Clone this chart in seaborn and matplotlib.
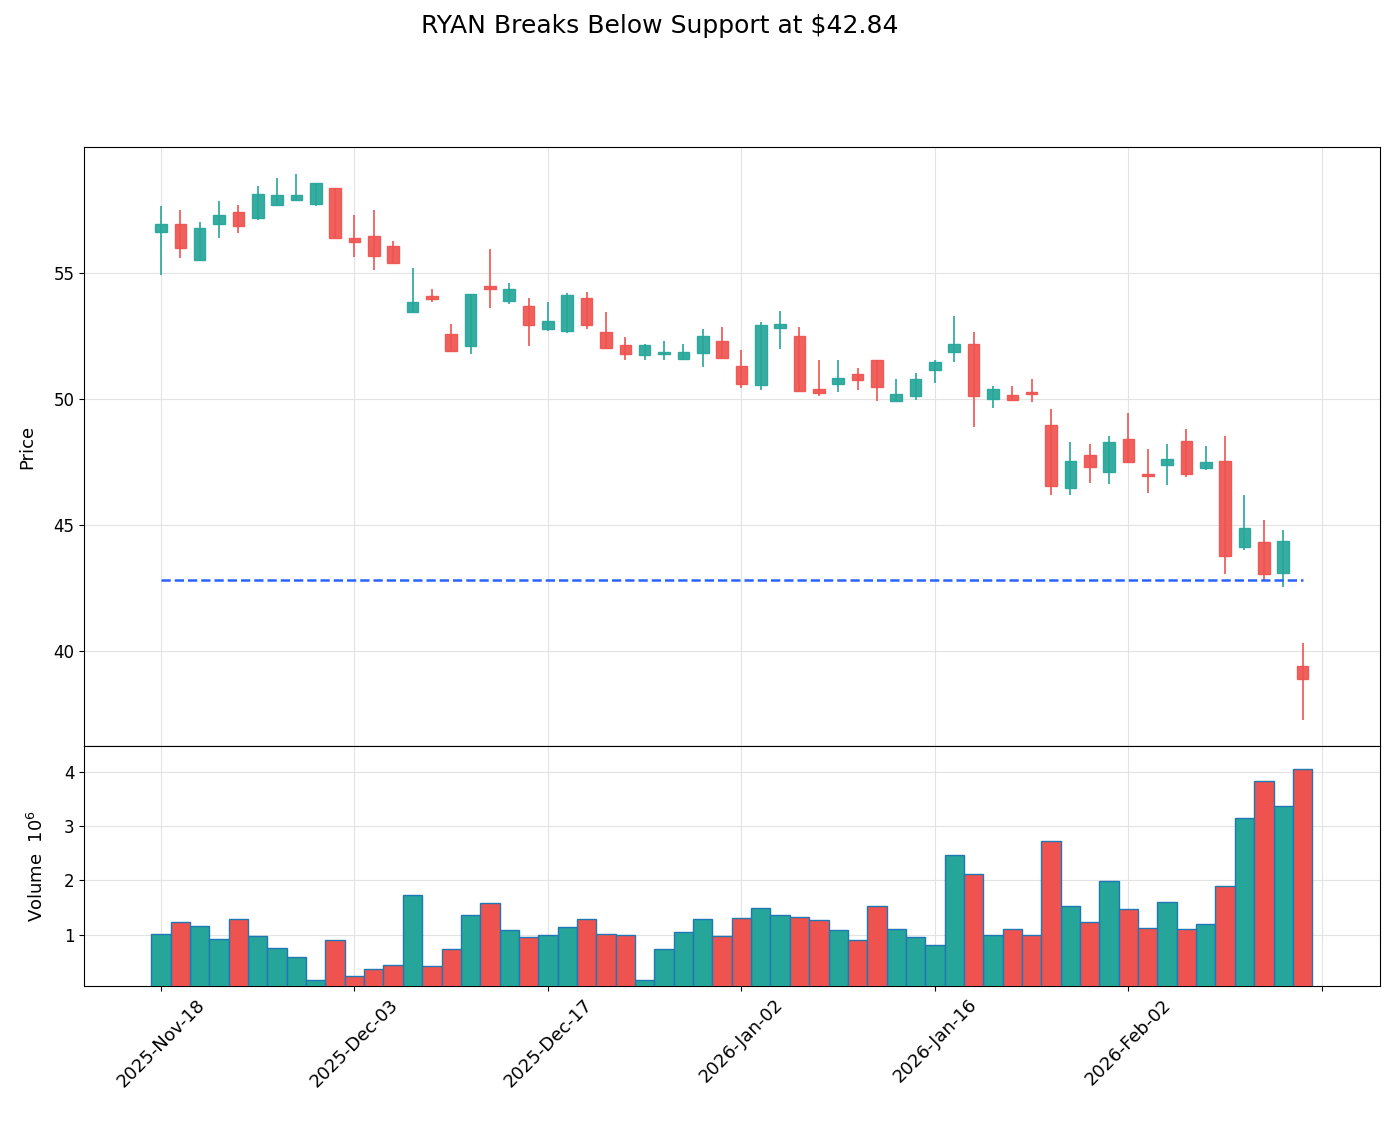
import matplotlib
matplotlib.use("Agg")
import matplotlib.pyplot as plt
import seaborn as sns
import pandas as pd
import numpy as np

# OHLC + volume (volume in millions)
opens = [56.61, 56.96, 55.53, 56.93, 57.43, 57.20, 57.71, 57.91, 57.75, 58.39,
         56.40, 56.48, 56.08, 53.47, 54.07, 52.58, 52.09, 54.48, 53.90, 53.69,
         52.78, 52.70, 54.01, 52.66, 52.14, 51.74, 51.80, 51.59, 51.84, 52.30,
         51.30, 50.54, 52.80, 52.49, 50.38, 50.58, 50.98, 51.53, 49.92, 50.11,
         51.16, 51.88, 52.20, 49.99, 50.16, 50.26, 48.97, 46.46, 47.78, 47.12,
         48.40, 47.02, 47.39, 48.32, 47.27, 47.56, 44.12, 44.34, 43.09, 39.40]
closes = [56.96, 56.01, 56.80, 57.31, 56.88, 58.15, 58.11, 58.11, 58.57, 56.40,
          56.24, 55.69, 55.41, 53.85, 53.98, 51.89, 54.17, 54.38, 54.38, 52.92,
          53.09, 54.13, 52.94, 52.02, 51.78, 52.14, 51.88, 51.86, 52.49, 51.63,
          50.58, 52.92, 52.96, 50.30, 50.26, 50.82, 50.74, 50.46, 50.19, 50.78,
          51.48, 52.20, 50.13, 50.41, 49.97, 50.21, 46.57, 47.54, 47.29, 48.29,
          47.49, 46.94, 47.64, 47.03, 47.52, 43.77, 44.89, 43.06, 44.38, 38.89]
highs = [57.65, 57.49, 57.01, 57.84, 57.69, 58.44, 58.76, 58.92, 58.57, 58.39,
         57.29, 57.49, 56.26, 55.19, 54.38, 52.99, 54.17, 55.97, 54.62, 54.02,
         53.86, 54.21, 54.26, 53.46, 52.47, 52.19, 52.31, 52.19, 52.79, 52.87,
         51.94, 53.06, 53.49, 52.86, 51.55, 51.55, 51.23, 51.53, 50.79, 51.03,
         51.56, 53.28, 52.65, 50.50, 50.50, 50.81, 49.62, 48.31, 48.23, 48.52,
         49.44, 48.01, 48.21, 48.81, 48.13, 48.54, 46.18, 45.20, 44.80, 40.33]
lows = [54.92, 55.60, 55.53, 56.39, 56.59, 57.10, 57.71, 57.91, 57.66, 56.40,
        55.63, 55.12, 55.41, 53.47, 53.85, 51.89, 51.80, 53.61, 53.77, 52.10,
        52.68, 52.64, 52.76, 51.98, 51.56, 51.56, 51.56, 51.53, 51.29, 51.63,
        50.45, 50.37, 52.00, 50.30, 50.12, 50.29, 50.37, 49.93, 49.91, 49.97,
        50.63, 51.47, 48.89, 49.64, 49.97, 49.88, 46.19, 46.19, 46.67, 46.63,
        47.45, 46.29, 46.60, 46.92, 47.20, 43.06, 44.02, 42.84, 42.55, 37.27]
volumes = [1.01, 1.23, 1.16, 0.92, 1.28, 0.98, 0.75, 0.58, 0.16, 0.90,
           0.23, 0.37, 0.44, 1.73, 0.42, 0.73, 1.36, 1.58, 1.09, 0.95,
           0.99, 1.14, 1.28, 1.01, 0.99, 0.16, 0.74, 1.05, 1.28, 0.97,
           1.30, 1.49, 1.36, 1.32, 1.26, 1.08, 0.90, 1.52, 1.10, 0.95,
           0.80, 2.46, 2.11, 0.99, 1.10, 0.99, 2.73, 1.53, 1.23, 1.98,
           1.47, 1.12, 1.60, 1.10, 1.20, 1.89, 3.16, 3.83, 3.37, 4.05]
support = 42.84

holidays = ["2025-11-27", "2025-12-25", "2026-01-01", "2026-01-19"]
dates = pd.bdate_range("2025-11-18", periods=len(opens), freq="C", holidays=holidays)

df = pd.DataFrame({"Open": opens, "High": highs, "Low": lows, "Close": closes, "Volume": volumes})
df["idx"] = np.arange(len(df))
df["dir"] = np.where(df["Close"] >= df["Open"], "up", "down")

up_color = "#26a69a"
down_color = "#ef5350"
colors = df["dir"].map({"up": up_color, "down": down_color})

sns.set_style("ticks", {"axes.grid": True, "grid.color": "#e3e3e3", "axes.edgecolor": "black",
                        "text.color": "black", "axes.labelcolor": "black",
                        "xtick.color": "black", "ytick.color": "black"})

fig = plt.figure(figsize=(13.95, 11.26), dpi=100)
ax = fig.add_axes([0.0602, 0.3375, 0.929, 0.532])
axv = fig.add_axes([0.0602, 0.1243, 0.929, 0.2132], sharex=ax)

# candles: wicks then bodies
ax.vlines(df["idx"], df["Low"], df["High"], colors=colors, linewidth=1.2, zorder=2)
body_bottom = np.minimum(df["Open"], df["Close"])
body_height = np.abs(df["Close"] - df["Open"])
body_height = np.maximum(body_height, 0.06)
ax.bar(df["idx"], body_height, bottom=body_bottom, width=0.6, color=colors,
       edgecolor=colors, linewidth=1.0, alpha=0.92, zorder=3)

# support line
ax.hlines(support, 0, len(df) - 1, colors="#2962ff", linestyles="--", linewidth=1.8, zorder=4)

ax.set_ylim(36.24, 60.0)
ax.set_yticks([40, 45, 50, 55])
ax.set_ylabel("Price", fontsize=13, labelpad=12)
ax.tick_params(axis="x", labelbottom=False)
ax.tick_params(labelsize=12)

# volume panel
sns.barplot(data=df, x="idx", y="Volume", hue="dir", palette={"up": up_color, "down": down_color},
            dodge=False, native_scale=True, width=1.0, saturation=1, edgecolor="#1f77b4",
            linewidth=1.0, legend=False, ax=axv, zorder=3)
axv.set_ylim(0.05, 4.48)
axv.set_yticks([1, 2, 3, 4])
axv.set_ylabel("Volume  $10^{6}$", fontsize=13, labelpad=12)
axv.set_xlabel("")

ticks = list(range(0, 61, 10))
labels = [dates[i].strftime("%Y-%b-%d") if i < len(dates) else "" for i in ticks]
axv.set_xticks(ticks)
axv.set_xticklabels(labels, rotation=45, ha="center")
axv.tick_params(axis="y", labelsize=12)
axv.tick_params(axis="x", labelsize=13)
axv.set_xlim(-3.98, 63.0)

for a in (ax, axv):
    for s in a.spines.values():
        s.set_color("black")
    a.set_axisbelow(True)

fig.text(0.473, 0.977, "RYAN Breaks Below Support at \\$42.84", ha="center", va="center", fontsize=18)

fig.savefig("out.png", dpi=100)
